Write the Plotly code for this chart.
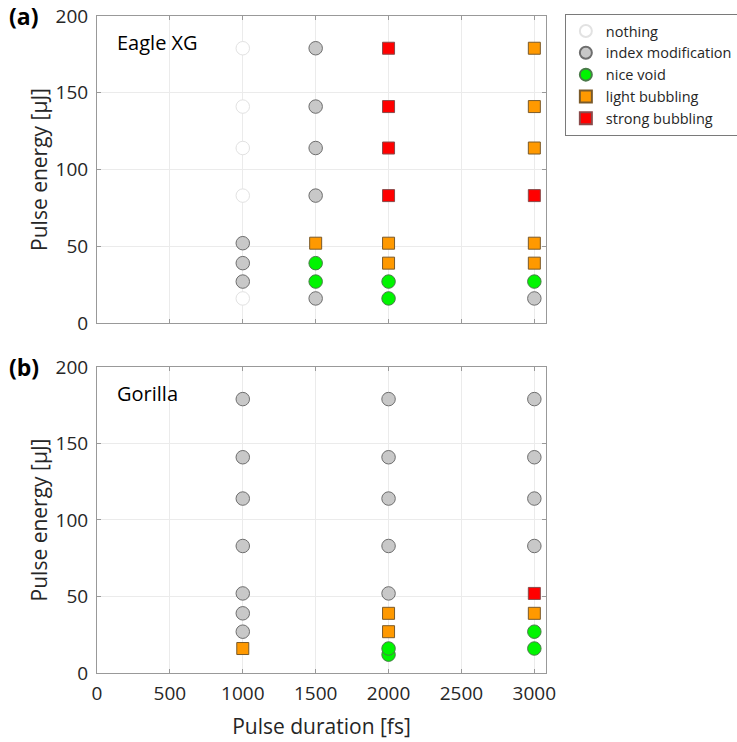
import plotly.graph_objects as go

# ---- data ----
categories = ["nothing", "index modification", "nice void", "light bubbling", "strong bubbling"]
symbols = {"nothing": "circle", "index modification": "circle", "nice void": "circle",
           "light bubbling": "square", "strong bubbling": "square"}
fills = {"nothing": "#ffffff", "index modification": "#c8c8c8", "nice void": "#00f500",
         "light bubbling": "#ff9900", "strong bubbling": "#ff0000"}
lines = {"nothing": "#e2e2e2", "index modification": "#6e6e6e", "nice void": "#4a7a4a",
         "light bubbling": "#7a5a2a", "strong bubbling": "#8a4a4a"}

# Eagle XG: (duration fs, energy uJ) per category
eagle_dur = {
    "nothing": [1000, 1000, 1000, 1000, 1000],
    "index modification": [1000, 1000, 1000, 1500, 1500, 1500, 1500, 1500, 3000],
    "nice void": [1500, 1500, 2000, 2000, 3000],
    "light bubbling": [1500, 2000, 2000, 3000, 3000, 3000, 3000, 3000],
    "strong bubbling": [2000, 2000, 2000, 2000, 3000],
}
eagle_en = {
    "nothing": [16, 83, 114, 141, 179],
    "index modification": [27, 39, 52, 16, 83, 114, 141, 179, 16],
    "nice void": [27, 39, 16, 27, 27],
    "light bubbling": [52, 39, 52, 39, 52, 114, 141, 179],
    "strong bubbling": [83, 114, 141, 179, 83],
}
# Gorilla
gor_dur = {
    "nothing": [],
    "index modification": [1000, 1000, 1000, 1000, 1000, 1000, 1000,
                           2000, 2000, 2000, 2000, 2000, 3000, 3000, 3000, 3000],
    "nice void": [2000, 2000, 3000, 3000],
    "light bubbling": [1000, 2000, 2000, 3000],
    "strong bubbling": [3000],
}
gor_en = {
    "nothing": [],
    "index modification": [27, 39, 52, 83, 114, 141, 179,
                           52, 83, 114, 141, 179, 83, 114, 141, 179],
    "nice void": [12, 16, 16, 27],
    "light bubbling": [16, 27, 39, 39],
    "strong bubbling": [52],
}

x_ticks = [0, 500, 1000, 1500, 2000, 2500, 3000]
y_ticks = [0, 50, 100, 150, 200]

FONT = "Open Sans"
TXT = "#262626"

fig = go.Figure()
for c in categories:
    size = 13.5 if symbols[c] == "circle" else 12
    mk = dict(symbol=symbols[c], size=size, color=fills[c], line=dict(color=lines[c], width=1))
    fig.add_trace(go.Scatter(x=eagle_dur[c], y=eagle_en[c], mode="markers", name=c,
                             marker=mk, xaxis="x", yaxis="y", legendgroup=c, showlegend=True))
    fig.add_trace(go.Scatter(x=gor_dur[c], y=gor_en[c], mode="markers", name=c,
                             marker=mk, xaxis="x2", yaxis="y2", legendgroup=c, showlegend=False))

axis_common = dict(showgrid=True, gridcolor="#ebebeb", gridwidth=1, zeroline=False,
                   showline=True, linecolor="#999999", linewidth=1, mirror="ticks",
                   ticks="inside", ticklen=4, tickcolor="#999999", automargin=False,
                   tickfont=dict(family=FONT, size=19, color=TXT))
ytitle = dict(text="Pulse energy [μJ]", font=dict(family=FONT, size=21, color=TXT), standoff=2)

fig.update_layout(
    width=737, height=742,
    margin=dict(l=97, r=191, t=16, b=69, autoexpand=False),
    paper_bgcolor="white", plot_bgcolor="white",
    font=dict(family=FONT, color=TXT),
    xaxis=dict(axis_common, range=[0, 3080], tickvals=x_ticks, showticklabels=False,
               domain=[0, 1], anchor="y"),
    yaxis=dict(axis_common, range=[0, 200], tickvals=y_ticks, domain=[0.5327, 1], anchor="x",
               ticklabelstandoff=4, title=ytitle),
    xaxis2=dict(axis_common, range=[0, 3080], tickvals=x_ticks, domain=[0, 1], anchor="y2",
                ticklabelstandoff=3,
                title=dict(text="Pulse duration [fs]", font=dict(family=FONT, size=21, color=TXT),
                           standoff=14)),
    yaxis2=dict(axis_common, range=[0, 200], tickvals=y_ticks, domain=[0, 0.4658], anchor="x2",
                ticklabelstandoff=4, title=ytitle),
    legend=dict(x=1.042, y=1.003, xanchor="left", yanchor="top",
                bordercolor="#7a7a7a", borderwidth=1, bgcolor="white",
                font=dict(family=FONT, size=14.5, color=TXT),
                itemsizing="constant", tracegroupgap=0),
    annotations=[
        dict(text="Eagle XG", x=125, y=182.5, xref="x", yref="y", xanchor="left", yanchor="middle",
             showarrow=False, font=dict(family=FONT, size=20, color="black")),
        dict(text="Gorilla", x=125, y=182.5, xref="x2", yref="y2", xanchor="left", yanchor="middle",
             showarrow=False, font=dict(family=FONT, size=20, color="black")),
        dict(text="<b>(a)</b>", x=-0.2, y=1.0, xref="paper", yref="paper", xanchor="left",
             yanchor="middle", showarrow=False, font=dict(family=FONT, size=23, color="black")),
        dict(text="<b>(b)</b>", x=-0.2, y=0.4658, xref="paper", yref="paper", xanchor="left",
             yanchor="middle", showarrow=False, font=dict(family=FONT, size=23, color="black")),
    ],
)

fig.write_html("out.html", config={"displayModeBar": False},
               post_script="document.body.style.margin='0px';")
